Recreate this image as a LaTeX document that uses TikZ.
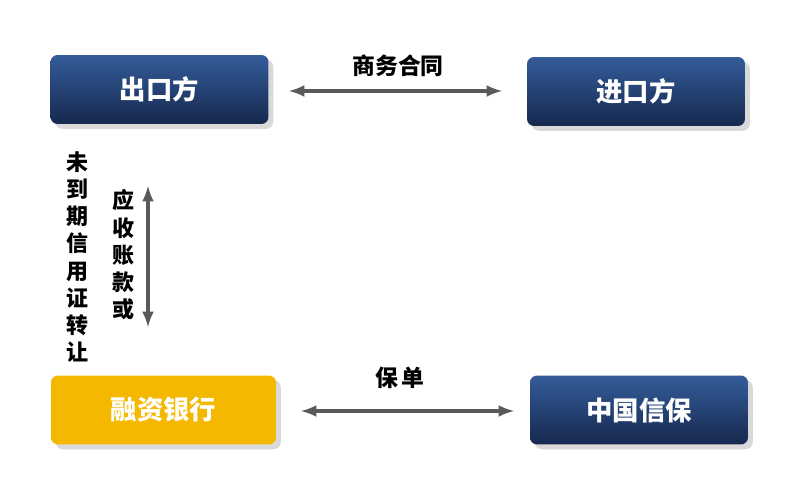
\documentclass[tikz,border=0pt]{standalone}
\usepackage{fontspec}
\setmainfont{Noto Sans CJK SC}
\usetikzlibrary{shadows}
\definecolor{navytop}{RGB}{52,92,154}
\definecolor{navybot}{RGB}{22,40,78}
\definecolor{gold}{RGB}{245,184,0}
\definecolor{arrowgray}{RGB}{90,90,90}
\tikzset{
  party/.style={rounded corners=4pt,top color=navytop,bottom color=navybot,
    text=white,font=\bfseries\fontsize{15}{18}\selectfont,minimum width=4.36cm,
    minimum height=1.38cm,drop shadow={opacity=0.3}},
  bank/.style={party,top color=gold,bottom color=gold,minimum width=4.5cm},
  flow/.style={<->,>=latex,line width=2pt,draw=arrowgray},
  tag/.style={font=\bfseries\fontsize{13}{15}\selectfont},
  vtag/.style={tag,align=center,font=\bfseries\fontsize{12.5}{15.5}\selectfont}
}
\begin{document}
\begin{tikzpicture}[x=0.02cm,y=-0.02cm]
	\useasboundingbox (0,0) rectangle (798,493);
	\node[party] at (159.5,89.5)(exporter){出口方};
	\node[party] at (636,91.5)(importer){进口方};
	\node[bank] at (163.5,410)(bank){融资银行};
	\node[party] at (639,410)(sinosure){中国信保};
	\node[tag] at (398,66)(contract){商务合同};
	\node[tag] at (400,378)(policy){保\,单};
	\node[vtag] at (77,257)(transfer){未\\到\\期\\信\\用\\证\\转\\让};
	\node[vtag] at (123,255)(receivable){应\\收\\账\\款\\或};
	\coordinate (c1) at (289,91);
	\coordinate (c2) at (502,91);
	\coordinate (p1) at (301,411);
	\coordinate (p2) at (514,411);
	\coordinate (v1) at (148,186);
	\coordinate (v2) at (148,327);
	\draw[flow] (c1) -- (c2);
	\draw[flow] (p1) -- (p2);
	\draw[flow] (v1) -- (v2);
\end{tikzpicture}
\end{document}
